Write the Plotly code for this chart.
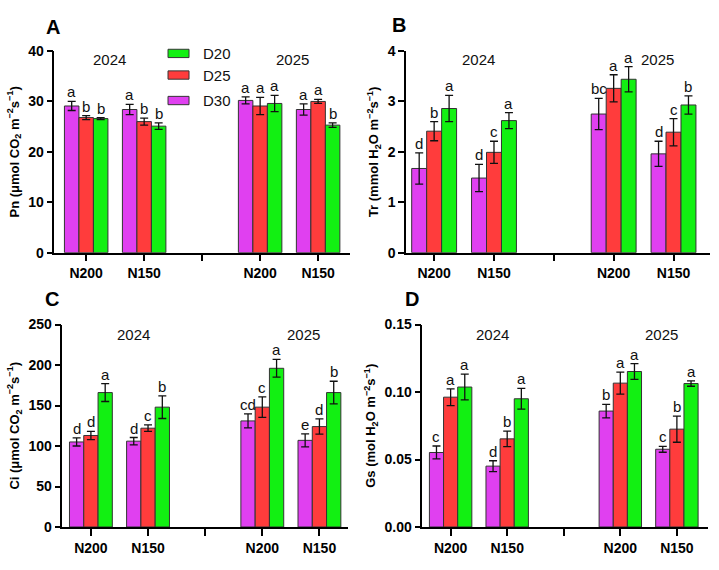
import plotly.graph_objects as go

# ---------------- data ----------------
groups = ["N200", "N150", "N200", "N150"]
years = ["2024", "2025"]
treatments = ["D30", "D25", "D20"]
slot_index = [0, 1, 3, 4]          # category slots (slot 2 is the gap between years)
tick_labels = ["N200", "N150", "", "N200", "N150"]

pn_d30 = [29.1, 28.4, 30.2, 28.4]
pn_d25 = [26.8, 26.0, 29.1, 30.0]
pn_d20 = [26.6, 25.1, 29.6, 25.3]
pn_d30_err = [0.9, 1.0, 0.7, 1.1]
pn_d25_err = [0.4, 0.7, 1.7, 0.4]
pn_d20_err = [0.2, 0.65, 1.6, 0.45]
pn_d30_let = ["a", "a", "a", "a"]
pn_d25_let = ["b", "b", "a", "a"]
pn_d20_let = ["b", "b", "a", "b"]

tr_d30 = [1.67, 1.48, 2.75, 1.96]
tr_d25 = [2.41, 1.99, 3.26, 2.39]
tr_d20 = [2.86, 2.62, 3.44, 2.93]
tr_d30_err = [0.31, 0.27, 0.31, 0.25]
tr_d25_err = [0.19, 0.22, 0.27, 0.27]
tr_d20_err = [0.26, 0.16, 0.25, 0.18]
tr_d30_let = ["d", "d", "bc", "d"]
tr_d25_let = ["b", "c", "a", "c"]
tr_d20_let = ["a", "a", "a", "b"]

ci_d30 = [105, 106, 131, 107]
ci_d25 = [113, 122, 148, 124]
ci_d20 = [166, 148, 196, 166]
ci_d30_err = [5, 4.5, 8.6, 8]
ci_d25_err = [5, 4, 12.6, 9.4]
ci_d20_err = [11, 14, 11, 14]
ci_d30_let = ["d", "d", "cd", "e"]
ci_d25_let = ["d", "c", "c", "d"]
ci_d20_let = ["a", "b", "a", "b"]

gs_d30 = [0.0552, 0.0451, 0.0859, 0.0576]
gs_d25 = [0.0962, 0.0653, 0.1066, 0.0725]
gs_d20 = [0.1037, 0.0950, 0.1152, 0.1063]
gs_d30_err = [0.0048, 0.0040, 0.0050, 0.0022]
gs_d25_err = [0.0062, 0.0058, 0.0082, 0.0097]
gs_d20_err = [0.0095, 0.0077, 0.0058, 0.0020]
gs_d30_let = ["c", "d", "b", "c"]
gs_d25_let = ["a", "b", "a", "b"]
gs_d20_let = ["a", "a", "a", "a"]

colors = {"D30": "#E040F0", "D25": "#FF3C3C", "D20": "#12F012"}

FONT = "Liberation Sans, Arial, sans-serif"

panels = [
    dict(name="A", vals=[pn_d30, pn_d25, pn_d20], errs=[pn_d30_err, pn_d25_err, pn_d20_err],
         lets=[pn_d30_let, pn_d25_let, pn_d20_let],
         title="<b>Pn (μmol CO<sub>2</sub> m<sup>−2</sup>s<sup>−1</sup>)</b>",
         yrange=[0, 40], dtick=10, fmt="d", xrange=[-0.55, 4.55],
         xdom=[0.0755, 0.4868], ydom=[0.5584, 0.9223], year_x=[0.4, 3.55], year_y=38.3,
         letter_pos=(0.061, 0.965)),
    dict(name="B", vals=[tr_d30, tr_d25, tr_d20], errs=[tr_d30_err, tr_d25_err, tr_d20_err],
         lets=[tr_d30_let, tr_d25_let, tr_d20_let],
         title="<b>Tr (mmol H<sub>2</sub>O m<sup>−2</sup>s<sup>−1</sup>)</b>",
         yrange=[0, 4], dtick=1, fmt="d", xrange=[-0.47, 4.61],
         xdom=[0.5647, 0.9875], ydom=[0.5584, 0.9223], year_x=[0.74, 3.73], year_y=3.83,
         letter_pos=(0.543, 0.969)),
    dict(name="C", vals=[ci_d30, ci_d25, ci_d20], errs=[ci_d30_err, ci_d25_err, ci_d20_err],
         lets=[ci_d30_let, ci_d25_let, ci_d20_let],
         title="<b>Ci (μmol CO<sub>2</sub> m<sup>−2</sup>s<sup>−1</sup>)</b>",
         yrange=[0, 250], dtick=50, fmt="d", xrange=[-0.5, 4.5],
         xdom=[0.0867, 0.484], ydom=[0.0632, 0.4286], year_x=[0.74, 3.72], year_y=238,
         letter_pos=(0.06, 0.474)),
    dict(name="D", vals=[gs_d30, gs_d25, gs_d20], errs=[gs_d30_err, gs_d25_err, gs_d20_err],
         lets=[gs_d30_let, gs_d25_let, gs_d20_let],
         title="<b>Gs (mol H<sub>2</sub>O m<sup>−2</sup>s<sup>−1</sup>)</b>",
         yrange=[0, 0.15], dtick=0.05, fmt=".2f", xrange=[-0.5, 4.55],
         xdom=[0.5874, 0.9847], ydom=[0.0632, 0.4286], year_x=[0.74, 3.72], year_y=0.143,
         letter_pos=(0.561, 0.474)),
]

fig = go.Figure()
annotations = []
bar_w = 0.25
offsets = [-bar_w, 0.0, bar_w]

for i, p in enumerate(panels):
    sfx = "" if i == 0 else str(i + 1)
    xa, ya = "x" + sfx, "y" + sfx
    for k, tname in enumerate(treatments):
        fig.add_trace(go.Bar(
            x=slot_index, y=p["vals"][k], name=tname, xaxis=xa, yaxis=ya,
            marker=dict(color=colors[tname], line=dict(color="#333333", width=1)),
            error_y=dict(type="data", array=p["errs"][k], color="#111111", thickness=1.3, width=4),
            showlegend=False, offsetgroup=tname,
        ))
        for j in range(len(slot_index)):
            annotations.append(dict(
                x=slot_index[j] + offsets[k], y=p["vals"][k][j] + p["errs"][k][j],
                xref=xa, yref=ya, text=p["lets"][k][j], showarrow=False,
                yanchor="bottom", xanchor="center", yshift=-1,
                font=dict(family=FONT, size=15, color="#111111")))
    for yi, yr in enumerate(years):
        annotations.append(dict(x=p["year_x"][yi], y=p["year_y"], xref=xa, yref=ya, text=yr,
                                showarrow=False, font=dict(family=FONT, size=15, color="#111111")))
    annotations.append(dict(x=p["letter_pos"][0], y=p["letter_pos"][1], xref="paper", yref="paper",
                            text="<b>" + p["name"] + "</b>", showarrow=False, xanchor="left",
                            yanchor="middle", font=dict(family=FONT, size=20, color="#000000")))
    fig.layout["xaxis" + sfx] = dict(
        domain=p["xdom"], anchor=ya, range=p["xrange"], tickmode="array",
        tickvals=list(range(len(tick_labels))), ticktext=["<b>%s</b>" % t for t in tick_labels],
        ticks="outside", ticklen=7, tickwidth=1.5, tickcolor="#000",
        showline=True, linecolor="#000", linewidth=1.5, showgrid=False, zeroline=False,
        tickfont=dict(family=FONT, size=14, color="#000"), fixedrange=True)
    fig.layout["yaxis" + sfx] = dict(
        domain=p["ydom"], anchor=xa, range=p["yrange"], dtick=p["dtick"], tick0=0,
        tickformat=p["fmt"], ticks="outside", ticklen=6, tickwidth=1.5, tickcolor="#000",
        showline=True, linecolor="#000", linewidth=1.5, showgrid=False, zeroline=False,
        tickfont=dict(family=FONT, size=14, color="#000", weight="bold"),
        title=dict(text=p["title"], font=dict(family=FONT, size=13, color="#000"), standoff=6),
        fixedrange=True)

# manual legend in panel A (D20, D25, D30 top to bottom)
shapes = []
legend_order = ["D20", "D25", "D30"]
legend_y = [0.918, 0.879, 0.833]
for name, ly in zip(legend_order, legend_y):
    shapes.append(dict(type="rect", xref="paper", yref="paper",
                       x0=0.2337, x1=0.2629, y0=ly - 0.0075, y1=ly + 0.0075,
                       fillcolor=colors[name], line=dict(color="#333333", width=1)))
    annotations.append(dict(x=0.280, y=ly, xref="paper", yref="paper", text=name,
                            showarrow=False, xanchor="left", yanchor="middle",
                            font=dict(family=FONT, size=15, color="#111111")))

fig.update_layout(
    width=719, height=570, margin=dict(l=0, r=0, t=0, b=0),
    paper_bgcolor="white", plot_bgcolor="white",
    barmode="group", bargap=0.25, bargroupgap=0,
    annotations=annotations, shapes=shapes, showlegend=False,
    font=dict(family=FONT),
)

fig.write_html("out.html")
